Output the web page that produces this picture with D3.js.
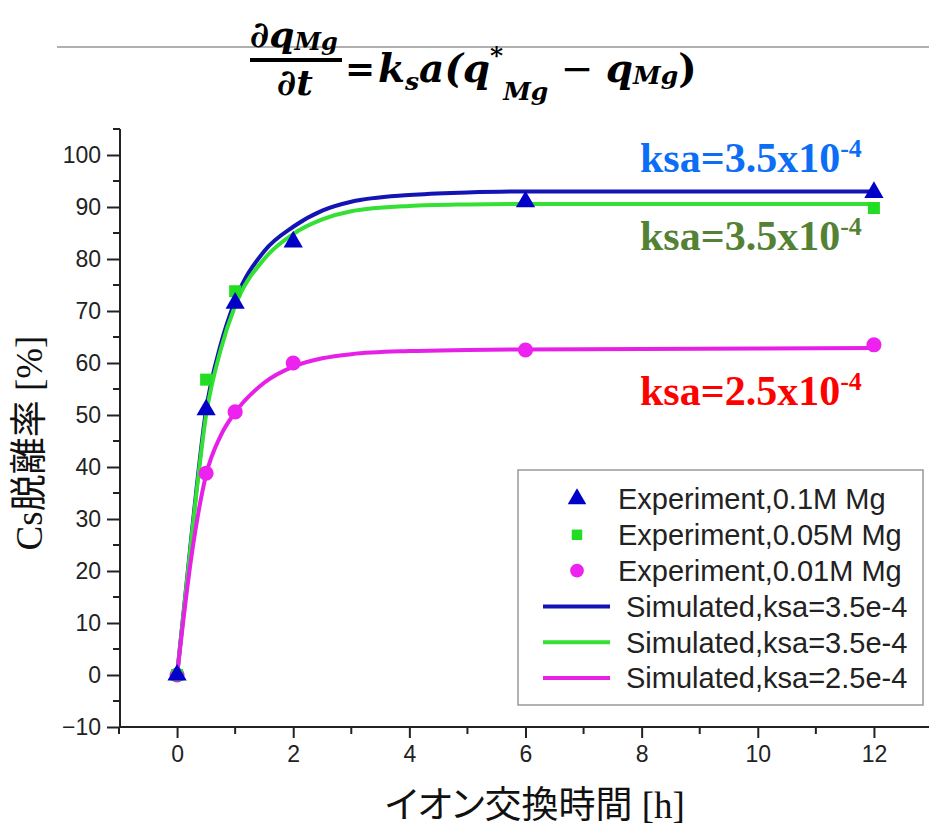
<!DOCTYPE html>
<html lang="ja">
<head>
<meta charset="utf-8">
<title>Cs desorption vs ion exchange time</title>
<script src="https://d3js.org/d3.v7.min.js"></script>
<style>
  body { margin: 0; background: #fff; }
  .tick text { font-family: "Liberation Sans", Arial, sans-serif; font-size: 23px; fill: #222; }
  .eq { font-family: "DejaVu Serif", "Liberation Serif", serif; font-weight: bold; font-style: italic; }
</style>
</head>
<body>
<script>
// experimental points
var expTime = [0, 0.5, 1, 2, 6, 12];
var exp01M = [0, 51, 71.5, 83.3, 91, 92.8];
var exp005Time = [0, 0.5, 1, 12];
var exp005M = [0, 56.8, 73.8, 89.8];
var exp001M = [0, 38.8, 50.6, 60, 62.5, 63.5];

// simulated curves
var simTime = [0, 0.25, 0.5, 0.75, 1, 1.5, 2, 2.5, 3, 4, 5, 6, 8, 10, 12];
var simBlue = [0, 27, 51, 63.5, 72, 81.5, 86.2, 89.3, 91, 92.3, 92.8, 93, 93, 93, 93];
var simGreen = [0, 26.5, 50, 62.5, 71, 80, 84.8, 87.6, 89.2, 90.2, 90.5, 90.6, 90.6, 90.6, 90.6];
var simPink = [0, 23, 38.5, 46, 50.5, 56.2, 59.3, 60.9, 61.7, 62.3, 62.5, 62.6, 62.7, 62.8, 62.9];

var xTicks = [0, 2, 4, 6, 8, 10, 12];
var yTicks = [-10, 0, 10, 20, 30, 40, 50, 60, 70, 80, 90, 100];

var legendLabels = ["Experiment,0.1M Mg", "Experiment,0.05M Mg", "Experiment,0.01M Mg",
                    "Simulated,ksa=3.5e-4", "Simulated,ksa=3.5e-4", "Simulated,ksa=2.5e-4"];

var cBlue = "#1414b4", cBlueMk = "#0000c8";
var cGreen = "#33e033", cGreenMk = "#22dd22";
var cPink = "#e620e6", cPinkMk = "#ee22ee";

var width = 929, height = 829;

var svg = d3.select("body").append("svg")
    .attr("width", width)
    .attr("height", height);

var x = d3.scaleLinear().domain([-1, 13]).range([119, 932]);
var y = d3.scaleLinear().domain([-10, 105]).range([727, 129]);

// ---- equation header ----
svg.append("line")
    .attr("x1", 57).attr("x2", 929).attr("y1", 47).attr("y2", 47)
    .attr("stroke", "#b0b0b0").attr("stroke-width", 2);

var num = svg.append("text").attr("class", "eq").attr("x", 250).attr("y", 47).attr("font-size", 36);
num.append("tspan").text("\u2202q");
num.append("tspan").attr("font-size", 24).attr("dy", 3).text("Mg");

svg.append("rect").attr("x", 250).attr("y", 58).attr("width", 92).attr("height", 4).attr("fill", "#000");

svg.append("text").attr("class", "eq").attr("x", 295).attr("y", 95)
    .attr("text-anchor", "middle").attr("font-size", 36).text("\u2202t");

svg.append("text").attr("class", "eq").attr("x", 345).attr("y", 81)
    .attr("font-size", 36).attr("font-style", "normal").attr("font-weight", "normal").text("=");

var rhs = svg.append("text").attr("class", "eq").attr("x", 378).attr("y", 82).attr("font-size", 39);
rhs.append("tspan").text("k");
rhs.append("tspan").attr("font-size", 25).attr("dy", 8).text("s");
rhs.append("tspan").attr("dy", -8).text("a(q");
rhs.append("tspan").attr("font-size", 25).attr("dy", -18).text("*");
rhs.append("tspan").attr("font-size", 25).attr("dy", 36).text("Mg");
rhs.append("tspan").attr("dy", -18).attr("font-style", "normal").attr("font-weight", "normal").text(" \u2212 ");
rhs.append("tspan").text("q");
rhs.append("tspan").attr("font-size", 25).attr("dy", 2).text("Mg");
rhs.append("tspan").attr("dy", -2).attr("font-style", "normal").text(")");

// ---- axes ----
var xAxis = svg.append("g").attr("transform", "translate(0,727)")
    .call(d3.axisBottom(x).tickValues(xTicks).tickSize(11).tickPadding(8).tickFormat(d3.format("d")));
var yAxis = svg.append("g").attr("transform", "translate(120,0)")
    .call(d3.axisLeft(y).tickValues(yTicks).tickSize(13).tickPadding(6).tickFormat(d3.format("d")));

[xAxis, yAxis].forEach(function(a) {
    a.select(".domain").attr("stroke", "#222").attr("stroke-width", 2);
    a.selectAll(".tick line").attr("stroke", "#222").attr("stroke-width", 2);
});
xAxis.select(".domain").attr("d", "M119,0H929");
yAxis.select(".domain").attr("d", "M0,129V727");

// minor ticks
svg.append("g").selectAll("line").data(d3.range(-1, 13, 2)).join("line")
    .attr("x1", d => x(d)).attr("x2", d => x(d)).attr("y1", 727).attr("y2", 734)
    .attr("stroke", "#222").attr("stroke-width", 2);
svg.append("g").selectAll("line").data(d3.range(-5, 106, 10)).join("line")
    .attr("x1", 113).attr("x2", 120).attr("y1", d => y(d)).attr("y2", d => y(d))
    .attr("stroke", "#222").attr("stroke-width", 2);

// ---- axis titles ----
var xt = svg.append("text").attr("x", 385).attr("y", 818)
    .attr("font-size", 37).attr("fill", "#111");
xt.append("tspan").attr("font-family", "'Noto Sans CJK JP', sans-serif")
    .style("font-feature-settings", "'palt' 1").text("イオン交換時間");
xt.append("tspan").attr("font-family", "'Liberation Serif', serif").text(" [h]");

var yt = svg.append("text").attr("transform", "translate(42,443) rotate(-90)")
    .attr("text-anchor", "middle").attr("font-size", 37).attr("fill", "#111");
yt.append("tspan").attr("font-family", "'Liberation Serif', serif").text("Cs");
yt.append("tspan").attr("font-family", "'Noto Sans CJK JP', sans-serif").text("脱離率");
yt.append("tspan").attr("font-family", "'Liberation Serif', serif").text(" [%]");

// ---- simulated lines ----
var line = d3.line().x(d => x(d[0])).y(d => y(d[1])).curve(d3.curveMonotoneX);
var sims = [[simBlue, cBlue], [simGreen, cGreen], [simPink, cPink]];
sims.forEach(function(s) {
    svg.append("path")
        .datum(simTime.map((t, i) => [t, s[0][i]]))
        .attr("d", line)
        .attr("fill", "none")
        .attr("stroke", s[1])
        .attr("stroke-width", 4);
});

// ---- experimental markers ----
function markers(times, vals, type, size, color) {
    svg.append("g").selectAll("path").data(times.map((t, i) => [t, vals[i]])).join("path")
        .attr("transform", d => "translate(" + x(d[0]) + "," + y(d[1]) + ")")
        .attr("d", d3.symbol().type(type).size(size))
        .attr("fill", color);
}
markers(expTime, exp001M, d3.symbolCircle, 180, cPinkMk);
markers(exp005Time, exp005M, d3.symbolSquare, 144, cGreenMk);
markers(expTime, exp01M, d3.symbolTriangle, 160, cBlueMk);

// ---- legend ----
var lg = svg.append("g");
lg.append("rect").attr("x", 518).attr("y", 470).attr("width", 405).attr("height", 235)
    .attr("fill", "#fff").attr("stroke", "#999").attr("stroke-width", 1.5);
var rowY = d3.scalePoint().domain(d3.range(6)).range([499, 678]);
var legendSym = [[d3.symbolTriangle, 150, cBlueMk], [d3.symbolSquare, 110, cGreenMk], [d3.symbolCircle, 150, cPinkMk]];
legendSym.forEach(function(s, i) {
    lg.append("path").attr("transform", "translate(577," + rowY(i) + ")")
        .attr("d", d3.symbol().type(s[0]).size(s[1])).attr("fill", s[2]);
});
[cBlue, cGreen, cPink].forEach(function(c, i) {
    lg.append("line").attr("x1", 543).attr("x2", 610)
        .attr("y1", rowY(i + 3)).attr("y2", rowY(i + 3))
        .attr("stroke", c).attr("stroke-width", 4);
});
lg.selectAll("text.lab").data(legendLabels).join("text").attr("class", "lab")
    .attr("x", (d, i) => i < 3 ? 618 : 626)
    .attr("y", (d, i) => rowY(i))
    .attr("dy", "0.36em")
    .attr("font-family", "'Liberation Sans', Arial, sans-serif")
    .attr("font-size", 29).attr("fill", "#222")
    .text(d => d);

// ---- ksa annotations ----
var notes = [["3.5", "#0b6ef5", 172], ["3.5", "#548235", 250], ["2.5", "#ff0000", 405]];
notes.forEach(function(n) {
    var t = svg.append("text").attr("x", 640).attr("y", n[2])
        .attr("font-family", "'Liberation Serif', 'Times New Roman', serif")
        .attr("font-weight", "bold").attr("font-size", 42).attr("fill", n[1]);
    t.append("tspan").text("ksa=" + n[0] + "x10");
    t.append("tspan").attr("font-size", 26).attr("dy", -15).text("-4");
});
</script>
</body>
</html>
